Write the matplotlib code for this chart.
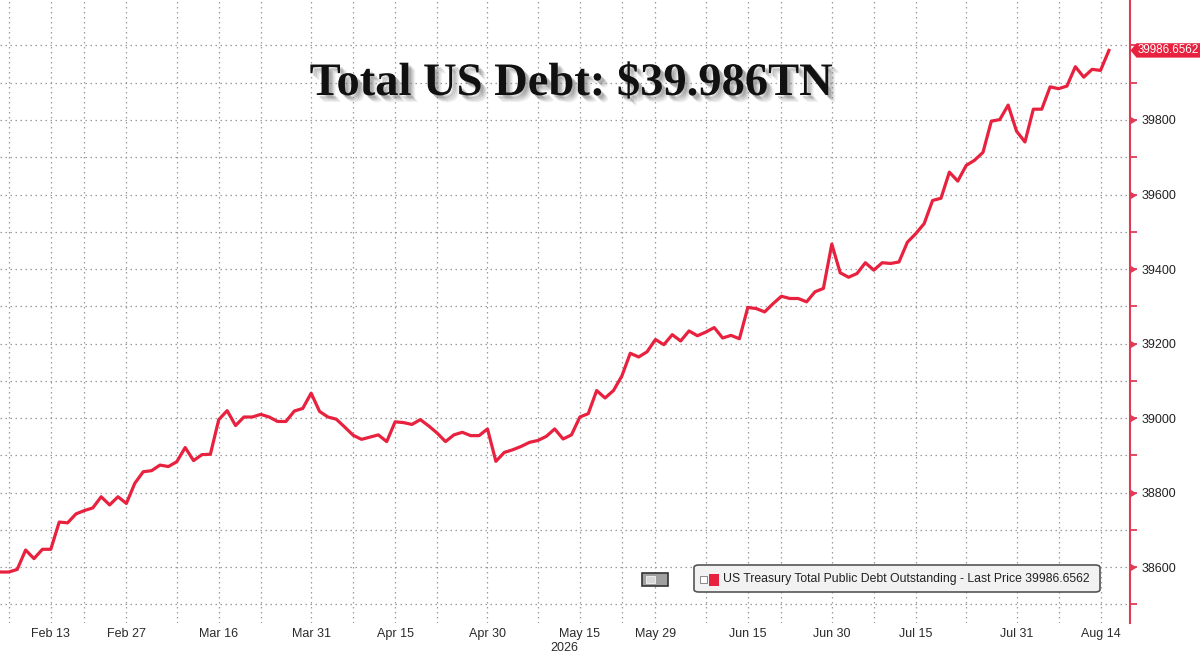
import numpy as np
import pandas as pd
import matplotlib
matplotlib.use("Agg")
import matplotlib.pyplot as plt
import matplotlib.patheffects as pe
from matplotlib.patches import Polygon, FancyBboxPatch, Rectangle
from matplotlib.transforms import blended_transform_factory

# business days (no data on federal holidays incl. Good Friday)
START = "2026-02-05"
END = "2026-08-17"
HOLIDAYS = ["2026-02-16", "2026-04-03", "2026-05-25", "2026-06-19", "2026-07-03"]

# US Treasury total public debt outstanding, $bn
debt = [38587, 38587, 38594, 38646, 38623, 38648, 38648, 38721, 38719, 38743,
        38752, 38759, 38789, 38767, 38789, 38771, 38825, 38856, 38859, 38874,
        38870, 38883, 38921, 38886, 38902, 38903, 38996, 39020, 38980, 39003,
        39003, 39010, 39003, 38991, 38991, 39019, 39026, 39067, 39018, 39003,
        38997, 38976, 38954, 38943, 38949, 38955, 38937, 38990, 38988, 38983,
        38996, 38979, 38960, 38937, 38955, 38962, 38953, 38953, 38971, 38884,
        38908, 38915, 38924, 38935, 38940, 38951, 38971, 38944, 38955, 39003,
        39012, 39074, 39054, 39074, 39113, 39174, 39164, 39178, 39211, 39197,
        39224, 39207, 39234, 39221, 39231, 39243, 39215, 39222, 39213, 39297,
        39294, 39285, 39307, 39327, 39321, 39321, 39312, 39339, 39348, 39467,
        39390, 39378, 39388, 39417, 39397, 39417, 39415, 39419, 39472, 39495,
        39522, 39584, 39590, 39660, 39636, 39678, 39692, 39713, 39797, 39801,
        39840, 39770, 39741, 39829, 39829, 39889, 39884, 39891, 39943, 39915,
        39936, 39933, 39986.6562]

tick_dates = ["2026-02-13", "2026-02-27", "2026-03-16", "2026-03-31", "2026-04-15",
              "2026-04-30", "2026-05-15", "2026-05-29", "2026-06-15", "2026-06-30",
              "2026-07-15", "2026-07-31", "2026-08-14"]
tick_labels = ["Feb 13", "Feb 27", "Mar 16", "Mar 31", "Apr 15", "Apr 30", "May 15",
               "May 29", "Jun 15", "Jun 30", "Jul 15", "Jul 31", "Aug 14"]
minor_dates = ["2026-02-06", "2026-02-20", "2026-03-09", "2026-03-23", "2026-04-08",
               "2026-04-22", "2026-05-08", "2026-05-22", "2026-06-08", "2026-06-22",
               "2026-07-08", "2026-07-23", "2026-08-07"]
y_labels = [38600, 38800, 39000, 39200, 39400, 39600, 39800]

dates = pd.bdate_range(START, END, freq="C", holidays=HOLIDAYS)
assert len(dates) == len(debt)
pos = {d.strftime("%Y-%m-%d"): i for i, d in enumerate(dates)}
x = np.arange(len(debt))
last = debt[-1]

RED = "#e8213f"
AXRED = "#e23a55"
SANS = ["Liberation Sans", "DejaVu Sans"]
FS = 9.0

W, H = 1200, 654
fig = plt.figure(figsize=(W / 100, H / 100), dpi=100)
fig.patch.set_facecolor("white")
ax = fig.add_axes([0, 1 - 622.7 / H, 1129.5 / W, 622.7 / H])

ax.plot(x, debt, color=RED, lw=2.3, zorder=3)

ax.set_xlim(-0.05, 134.45)
ax.set_ylim(38451, 40122)

ax.set_xticks([pos[d] for d in tick_dates])
ax.set_xticklabels(tick_labels, family=SANS, fontsize=FS, color="#2a2a2a")
ax.set_xticks([pos[d] for d in minor_dates], minor=True)
ax.tick_params(axis="x", which="both", length=0, pad=4)

ax.yaxis.tick_right()
ax.set_yticks(y_labels)
ax.set_yticklabels([str(v) for v in y_labels], family=SANS, fontsize=FS, color="#222222")
ax.set_yticks(np.arange(38500, 40001, 100), minor=True)
ax.tick_params(axis="y", which="both", direction="out", length=5, width=1.3,
               color=AXRED, pad=4)

# small red pointers on the labelled ticks
ytr = blended_transform_factory(ax.transAxes, ax.transData)
ax.plot([1.0] * len(y_labels), y_labels, ls="none", marker=9, ms=5, color=AXRED,
        transform=ytr, clip_on=False, zorder=4)

ax.grid(which="both", color="#9a9a9a", linestyle=(0, (1.2, 2.8)), lw=0.9)
for s in ["left", "top", "bottom"]:
    ax.spines[s].set_visible(False)
ax.spines["right"].set_color(AXRED)
ax.spines["right"].set_linewidth(1.5)

# year under May 15
trans = blended_transform_factory(ax.transData, ax.transAxes)
ax.text(pos["2026-05-15"] - 1.8, -0.04, "2026", transform=trans, ha="center",
        va="center", family=SANS, fontsize=FS, color="#2a2a2a")

# title with soft shadow
fig.text(571 / W, 1 - 95 / H, "Total US Debt: $39.986TN", ha="center", va="baseline",
         family="Liberation Serif", fontweight="bold", fontsize=33.5, color="#111111",
         path_effects=[pe.SimplePatchShadow(offset=(5, -5), shadow_rgbFace="#999999", alpha=0.15),
                       pe.SimplePatchShadow(offset=(4, -4), shadow_rgbFace="#888888", alpha=0.2),
                       pe.SimplePatchShadow(offset=(3, -3), shadow_rgbFace="#777777", alpha=0.25),
                       pe.SimplePatchShadow(offset=(2, -2), shadow_rgbFace="#666666", alpha=0.25),
                       pe.Normal()])

def fx(px):
    return px / W

def fy(py):
    return 1 - py / H

# last price tag on right axis
fig.canvas.draw()
ty = H - ax.transData.transform((0, last))[1]
tag = Polygon([(fx(1130.5), fy(ty)), (fx(1136.5), fy(ty - 7.2)), (fx(1200), fy(ty - 7.2)),
               (fx(1200), fy(ty + 7.2)), (fx(1136.5), fy(ty + 7.2))],
              closed=True, transform=fig.transFigure, facecolor=RED, edgecolor="none",
              zorder=5)
fig.patches.append(tag)
fig.text(fx(1168.5), fy(ty), f"{last:.4f}", ha="center", va="center", color="white",
         family=SANS, fontsize=8.4, zorder=6)

# legend box
leg = FancyBboxPatch((fx(694), fy(592)), fx(1100) - fx(694), fy(565) - fy(592),
                     boxstyle="round,pad=0,rounding_size=0.004", transform=fig.transFigure,
                     facecolor="#f2f2f2", edgecolor="#555555", lw=1.2, zorder=5)
fig.patches.append(leg)
fig.patches.append(Rectangle((fx(700), fy(582.5)), fx(7), 7 / H, transform=fig.transFigure,
                             facecolor="white", edgecolor="#888888", lw=0.7, zorder=6))
fig.patches.append(Rectangle((fx(709), fy(586)), fx(10), 12 / H, transform=fig.transFigure,
                             facecolor=RED, edgecolor="none", zorder=6))
fig.text(fx(723), fy(579), f"US Treasury Total Public Debt Outstanding - Last Price {last:.4f}",
         ha="left", va="center", family=SANS, fontsize=8.8, color="#222222", zorder=6)

# small chart-type button left of legend
fig.patches.append(Rectangle((fx(642), fy(586)), fx(26), 13 / H, transform=fig.transFigure,
                             facecolor="#a0a0a0", edgecolor="#333333", lw=1.2, zorder=5))
fig.patches.append(Rectangle((fx(646), fy(583)), fx(9), 7 / H, transform=fig.transFigure,
                             facecolor="#d8d8d8", edgecolor="#f4f4f4", lw=0.6, zorder=6))

fig.savefig("out.png", dpi=100)
